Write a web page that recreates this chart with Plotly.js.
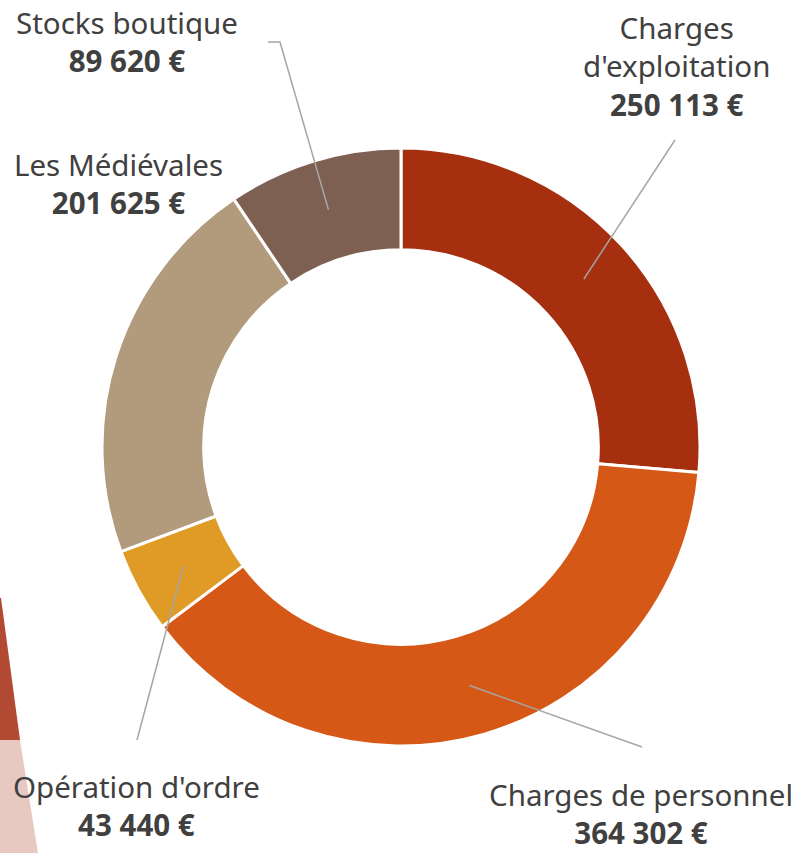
<!DOCTYPE html>
<html><head><meta charset="utf-8">
<script src="https://cdn.plot.ly/plotly-3.0.1.min.js"></script>
<style>html,body{margin:0;padding:0;background:#fff;}#chart{width:798px;height:853px;}</style>
</head><body><div id="chart"></div>
<script>
// Data
const categories = ["Charges d'exploitation", "Charges de personnel", "Opération d'ordre", "Les Médiévales", "Stocks boutique"];
const labelLines = [["Charges", "d'exploitation"], ["Charges de personnel"], ["Opération d'ordre"], ["Les Médiévales"], ["Stocks boutique"]];
const amounts = [250113, 364302, 43440, 201625, 89620];
const valueLabels = ["250 113 €", "364 302 €", "43 440 €", "201 625 €", "89 620 €"];
const colors = ["#A52F0F", "#D55817", "#E09A26", "#B19B7C", "#7E6052"];

// Layout config (pixels)
const W = 798, H = 853;
const cx = 401, cy = 447, R = 299;
const hole = 0.66;
const textColor = "#404040";
const fontFam = "Noto Sans, DejaVu Sans, sans-serif";
const fontSize = 29.5;
// label block centers (x, y middle)
const labelPos = [
  {x: 676, y: 66}, {x: 641, y: 813}, {x: 136, y: 805}, {x: 118, y: 183}, {x: 127, y: 42}
];
const leaderEnd = [
  [[675, 140]], [[642, 747]], [[137, 740]], null, [[280, 42], [268, 42]]
];

const px = x => x / W;
const py = y => 1 - y / H;

const total = amounts.reduce((a, b) => a + b, 0);
const shapes = [];
const annotations = [];
let cum = 0;
amounts.forEach((v, i) => {
  const mid = (cum + v / 2) / total * 2 * Math.PI;
  cum += v;
  const r = R * (1 + hole) / 2;
  const sx = cx + r * Math.sin(mid), sy = cy - r * Math.cos(mid);
  if (leaderEnd[i]) {
    let d = `M${px(sx)},${py(sy)}`;
    leaderEnd[i].forEach(p => { d += ` L${px(p[0])},${py(p[1])}`; });
    shapes.push({type: "path", xref: "paper", yref: "paper", path: d,
      line: {color: "#A6A6A6", width: 1.5}});
  }
  const txt = labelLines[i].join("<br>") + "<br><b>" + valueLabels[i] + "</b>";
  annotations.push({xref: "paper", yref: "paper", x: px(labelPos[i].x), y: py(labelPos[i].y),
    xanchor: "center", yanchor: "middle", showarrow: false, align: "center", text: txt,
    borderpad: 0, font: {family: fontFam, size: fontSize, color: textColor}});
});

// decorative fragments at bottom-left
shapes.push({type: "path", xref: "paper", yref: "paper", layer: "below",
  path: `M${px(0)},${py(598)} L${px(1)},${py(598)} L${px(20)},${py(740)} L${px(0)},${py(740)} Z`,
  fillcolor: "#B24A33", line: {width: 0}});
shapes.push({type: "path", xref: "paper", yref: "paper", layer: "below",
  path: `M${px(0)},${py(740)} L${px(20)},${py(740)} L${px(38)},${py(853)} L${px(0)},${py(853)} Z`,
  fillcolor: "#E8C9C1", line: {width: 0}});

const trace = {
  type: "pie", labels: categories, values: amounts, hole: hole, sort: false,
  direction: "clockwise", rotation: 0, textinfo: "none", hoverinfo: "label+value",
  marker: {colors: colors, line: {color: "#ffffff", width: 3}},
  domain: {x: [px(cx - R), px(cx + R)], y: [py(cy + R), py(cy - R)]},
  showlegend: false
};

Plotly.newPlot("chart", [trace], {
  width: W, height: H, margin: {l: 0, r: 0, t: 0, b: 0},
  paper_bgcolor: "#ffffff", plot_bgcolor: "#ffffff",
  shapes: shapes, annotations: annotations, showlegend: false
}, {displayModeBar: false});
</script></body></html>
